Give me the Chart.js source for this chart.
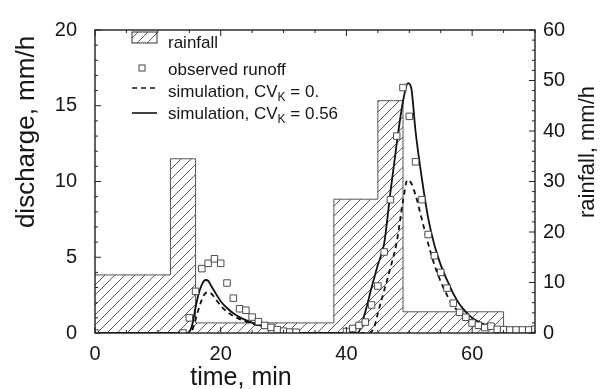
<!DOCTYPE html>
<html><head><meta charset="utf-8">
<script src="https://cdn.jsdelivr.net/npm/chart.js@4.4.0/dist/chart.umd.min.js"></script>
<style>html,body{margin:0;padding:0;background:#fff}#wrap{width:601px;height:389px;position:relative}</style>
</head><body><div id="wrap"><canvas id="c" width="601" height="389"></canvas></div>
<script>
// ---------- data ----------
const xTicks = [0, 20, 40, 60];
const qTicks = [0, 5, 10, 15, 20];
const rTicks = [0, 10, 20, 30, 40, 50, 60];

const rainEdges  = [0, 12, 16, 38, 45, 49, 65];
const rainValues = [11.5, 34.5, 2.0, 26.5, 46.0, 4.2];

const obsTime = [0, 14, 15, 16, 17, 18, 19, 20, 21, 22, 23, 24, 25, 26, 27, 28, 29, 30, 31, 32,
                 40, 41, 42, 43, 44, 45, 46, 47, 48, 49, 50, 51, 52, 53, 54, 55, 56, 57, 58, 59,
                 60, 61, 62, 63, 64, 65, 66, 67, 68, 69, 70];
const obsQ    = [0, 0, 1.0, 2.75, 4.25, 4.6, 4.9, 4.6, 3.3, 2.3, 1.6, 1.5, 1.05, 0.75, 0.5, 0.37, 0.22, 0.12, 0.06, 0.05,
                 0.1, 0.3, 0.5, 0.72, 1.85, 3.1, 5.35, 8.8, 13.0, 16.2, 14.3, 11.3, 8.8, 6.5, 5.1, 4.0, 2.96, 1.97, 1.36, 1.04,
                 0.66, 0.51, 0.36, 0.45, 0.24, 0.22, 0.2, 0.2, 0.2, 0.2, 0.25];

const sim0Time = [0, 15.2, 16, 16.5, 17, 17.5, 18, 18.5, 19, 20, 21, 22, 23, 24, 25, 26, 27, 28, 29, 30, 31, 32, 33,
                  43.6, 44.5, 45, 46, 47, 48, 49, 49.7, 50.3, 51, 52, 53, 54, 55, 56, 57, 58, 59, 60, 61, 62, 63, 64, 65, 66, 67, 68, 69, 70];
const sim0Q    = [0, 0, 0.9, 1.6, 2.2, 2.6, 2.7, 2.6, 2.35, 1.8, 1.4, 1.12, 0.92, 0.76, 0.62, 0.5, 0.38, 0.28, 0.2, 0.13, 0.08, 0.04, 0,
                  0, 0.5, 1.3, 2.8, 4.3, 6.0, 8.7, 10.1, 9.9, 9.1, 7.5, 5.9, 4.5, 3.4, 2.5, 1.8, 1.35, 1.0, 0.78, 0.6, 0.45, 0.34, 0.26, 0.2, 0.15, 0.12, 0.1, 0.08, 0.07];

const sim56Time = [0, 14.8, 15.5, 16, 16.5, 17, 17.6, 18, 18.5, 19, 20, 21, 22, 23, 24, 25, 26, 27, 28, 29, 30, 31, 32, 33,
                   41.8, 43, 44, 45, 46, 47, 48, 49, 49.8, 50.3, 51, 52, 53, 54, 55, 56, 57, 58, 59, 60, 61, 62, 63, 64, 65, 66, 67, 68, 69, 70];
const sim56Q    = [0, 0, 0.6, 1.7, 2.6, 3.2, 3.5, 3.45, 3.1, 2.75, 2.1, 1.65, 1.3, 1.05, 0.85, 0.68, 0.53, 0.4, 0.3, 0.2, 0.12, 0.07, 0.04, 0,
                   0, 1.4, 3.0, 4.5, 5.9, 9.3, 12.5, 15.3, 16.5, 16.2, 13.3, 10.2, 7.6, 5.8, 4.5, 3.5, 2.6, 1.9, 1.4, 1.0, 0.75, 0.55, 0.42, 0.32, 0.25, 0.2, 0.16, 0.13, 0.11, 0.1];

const legendLabels = ['rainfall', 'observed runoff', 'simulation, CV', 'simulation, CV'];
const legendSubs   = ['', '', 'K', 'K'];
const legendTails  = ['', '', ' = 0.', ' = 0.56'];
const axisTitles = {x: 'time, min', q: 'discharge, mm/h', r: 'rainfall, mm/h'};

// ---------- build ----------
const rainPts = rainEdges.map((e, i) => ({x: e, y: i < rainValues.length ? rainValues[i] : rainValues[rainValues.length - 1]}));
rainPts.push({x: rainEdges[rainEdges.length - 1], y: 0});
rainPts.push({x: 70, y: 0});
const zip = (t, v) => t.map((x, i) => ({x, y: v[i]}));

const FONT = '"Liberation Sans", Arial, Helvetica, sans-serif';
const INK = '#161616';

function makeHatch() {
  const s = 10, c = document.createElement('canvas');
  c.width = s; c.height = s;
  const g = c.getContext('2d');
  g.strokeStyle = '#4a4a4a'; g.lineWidth = 0.9;
  g.beginPath();
  g.moveTo(0, s); g.lineTo(s, 0);
  g.moveTo(-2, 2); g.lineTo(2, -2);
  g.moveTo(s - 2, s + 2); g.lineTo(s + 2, s - 2);
  g.stroke();
  return document.getElementById('c').getContext('2d').createPattern(c, 'repeat');
}
const hatch = makeHatch();

const framePlugin = {
  id: 'frame',
  afterDatasetsDraw(chart) {
    const {ctx, chartArea: a, scales} = chart;
    ctx.save();
    ctx.strokeStyle = '#202020';
    ctx.lineWidth = 1;
    ctx.beginPath();
    const xs = scales.x, yq = scales.yQ, yr = scales.yR;
    for (let v = 0; v <= 70; v += 5) {
      const p = xs.getPixelForValue(v), L = xTicks.includes(v) ? 6 : 3;
      ctx.moveTo(p, a.bottom); ctx.lineTo(p, a.bottom - L);
      ctx.moveTo(p, a.top); ctx.lineTo(p, a.top + L);
    }
    for (let v = 0; v <= 20; v += 1) {
      const p = yq.getPixelForValue(v), L = qTicks.includes(v) ? 6 : 3;
      ctx.moveTo(a.left, p); ctx.lineTo(a.left + L, p);
    }
    for (let v = 0; v <= 60; v += 2) {
      const p = yr.getPixelForValue(v), L = rTicks.includes(v) ? 6 : 3;
      ctx.moveTo(a.right, p); ctx.lineTo(a.right - L, p);
    }
    ctx.stroke();
    ctx.lineWidth = 1.4;
    ctx.strokeRect(a.left, a.top, a.right - a.left, a.bottom - a.top);
    ctx.restore();
  },
  afterDraw(chart) {
    const {ctx} = chart;
    ctx.save();
    ctx.fillStyle = INK;
    ctx.textBaseline = 'alphabetic';
    ctx.textAlign = 'center';
    ctx.font = '25px ' + FONT;
    ctx.fillText(axisTitles.x, 241, 385);
    ctx.save(); ctx.translate(34, 132); ctx.rotate(-Math.PI / 2);
    ctx.font = '26px ' + FONT; ctx.fillText(axisTitles.q, 0, 0); ctx.restore();
    ctx.save(); ctx.translate(594, 152); ctx.rotate(-Math.PI / 2);
    ctx.font = '22px ' + FONT; ctx.fillText(axisTitles.r, 0, 0); ctx.restore();

    const sx0 = 132, sx1 = 157, tx = 168;
    ctx.fillStyle = '#fff';
    ctx.fillRect(sx0, 32, sx1 - sx0, 11);
    ctx.fillStyle = hatch;
    ctx.fillRect(sx0, 32, sx1 - sx0, 11);
    ctx.strokeStyle = '#333'; ctx.lineWidth = 1;
    ctx.strokeRect(sx0, 32, sx1 - sx0, 11);
    ctx.fillStyle = '#fff'; ctx.strokeStyle = '#333'; ctx.lineWidth = 0.9;
    ctx.fillRect(139, 65, 6, 6); ctx.strokeRect(139, 65, 6, 6);
    ctx.strokeStyle = '#111'; ctx.lineWidth = 1.6;
    ctx.setLineDash([5, 4]);
    ctx.beginPath(); ctx.moveTo(sx0, 88); ctx.lineTo(sx1, 88); ctx.stroke();
    ctx.setLineDash([]);
    ctx.beginPath(); ctx.moveTo(sx0, 113); ctx.lineTo(sx1, 113); ctx.stroke();

    const base = [48, 75, 97, 119];
    ctx.fillStyle = INK; ctx.textAlign = 'left';
    legendLabels.forEach((lab, i) => {
      let x = tx;
      ctx.font = '17px ' + FONT;
      ctx.fillText(lab, x, base[i]); x += ctx.measureText(lab).width;
      if (legendSubs[i]) {
        ctx.font = '12px ' + FONT;
        ctx.fillText(legendSubs[i], x, base[i] + 4); x += ctx.measureText(legendSubs[i]).width;
        ctx.font = '17px ' + FONT;
        ctx.fillText(legendTails[i], x, base[i]);
      }
    });
    ctx.restore();
  }
};

const tickFont = {family: FONT, size: 20};
new Chart(document.getElementById('c'), {
  type: 'line',
  data: {
    datasets: [
      {label: 'rainfall', data: rainPts, yAxisID: 'yR', stepped: 'before', fill: 'origin',
       backgroundColor: hatch, borderColor: '#555', borderWidth: 1, pointRadius: 0, order: 10},
      {label: 'simulation, CVK = 0.', data: zip(sim0Time, sim0Q), yAxisID: 'yQ',
       borderColor: '#111', borderWidth: 1.8, borderDash: [5, 4], pointRadius: 0,
       cubicInterpolationMode: 'monotone', tension: 0.3, fill: false, order: 3},
      {label: 'simulation, CVK = 0.56', data: zip(sim56Time, sim56Q), yAxisID: 'yQ',
       borderColor: '#111', borderWidth: 1.8, pointRadius: 0,
       cubicInterpolationMode: 'monotone', tension: 0.3, fill: false, order: 2},
      {label: 'observed runoff', data: zip(obsTime, obsQ), yAxisID: 'yQ', showLine: false,
       pointStyle: 'rect', pointRadius: 4.6, pointBorderWidth: 0.9, pointBorderColor: '#3a3a3a',
       pointBackgroundColor: '#fff', order: 0}
    ]
  },
  options: {
    responsive: false, animation: false, devicePixelRatio: 1,
    plugins: {legend: {display: false}, tooltip: {enabled: false}},
    layout: {padding: {top: 19, left: 0, right: 0, bottom: 0}},
    scales: {
      x: {type: 'linear', min: 0, max: 70,
          afterBuildTicks: s => { s.ticks = xTicks.map(v => ({value: v})); },
          afterFit: s => { s.height = 56; },
          grid: {display: false, drawTicks: false}, border: {display: false},
          ticks: {padding: 9, font: tickFont, color: INK, maxRotation: 0, autoSkip: false}},
      yQ: {type: 'linear', position: 'left', min: 0, max: 20,
          afterBuildTicks: s => { s.ticks = qTicks.map(v => ({value: v})); },
          afterFit: s => { s.width = 95; },
          grid: {display: false, drawTicks: false}, border: {display: false},
          ticks: {padding: 18, font: tickFont, color: INK, autoSkip: false}},
      yR: {type: 'linear', position: 'right', min: 0, max: 60,
          afterBuildTicks: s => { s.ticks = rTicks.map(v => ({value: v})); },
          afterFit: s => { s.width = 66; },
          grid: {display: false, drawTicks: false}, border: {display: false},
          ticks: {padding: 8, font: tickFont, color: INK, autoSkip: false}}
    }
  },
  plugins: [framePlugin]
});
</script></body></html>
